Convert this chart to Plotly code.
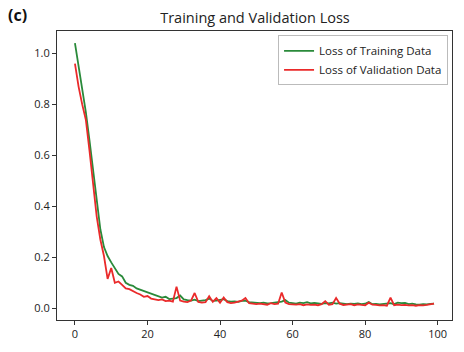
import plotly.graph_objects as go

epochs = list(range(100))

train_loss = [
    1.04, 0.95, 0.86, 0.77, 0.66, 0.54, 0.42, 0.31, 0.24, 0.205,
    0.18, 0.155, 0.135, 0.125, 0.10, 0.092, 0.088, 0.078, 0.073, 0.066,
    0.062, 0.055, 0.05, 0.047, 0.042, 0.045, 0.036, 0.038, 0.04, 0.05,
    0.035, 0.032, 0.03, 0.034, 0.028, 0.03, 0.032, 0.038, 0.029, 0.03,
    0.033, 0.036, 0.028, 0.026, 0.027, 0.025, 0.029, 0.03, 0.024, 0.022,
    0.021, 0.02, 0.022, 0.019, 0.02, 0.021, 0.024, 0.026, 0.032, 0.022,
    0.02, 0.018, 0.022, 0.02, 0.024, 0.019, 0.021, 0.018, 0.017, 0.02,
    0.019, 0.022, 0.018, 0.02, 0.017, 0.016, 0.018, 0.017, 0.019, 0.016,
    0.018, 0.025, 0.016, 0.017, 0.015, 0.016, 0.018, 0.02, 0.016, 0.022,
    0.02, 0.021, 0.016, 0.018, 0.015, 0.014, 0.016, 0.015, 0.017, 0.018,
]

val_loss = [
    0.96, 0.87, 0.80, 0.74, 0.62, 0.48, 0.36, 0.27, 0.205, 0.115,
    0.158, 0.10, 0.105, 0.092, 0.078, 0.075, 0.066, 0.06, 0.054, 0.045,
    0.048, 0.038, 0.035, 0.032, 0.035, 0.028, 0.03, 0.026, 0.085, 0.03,
    0.026, 0.024, 0.03, 0.06, 0.025, 0.022, 0.024, 0.047, 0.025, 0.04,
    0.022, 0.042, 0.024, 0.02, 0.022, 0.025, 0.03, 0.04, 0.02, 0.018,
    0.016, 0.018, 0.015, 0.014, 0.02, 0.016, 0.018, 0.062, 0.022, 0.016,
    0.015, 0.014, 0.016, 0.012, 0.015, 0.013, 0.014, 0.012, 0.016, 0.028,
    0.014, 0.016, 0.04, 0.018, 0.013, 0.014, 0.016, 0.012, 0.015, 0.013,
    0.012, 0.022, 0.014, 0.013, 0.011, 0.012, 0.01, 0.042, 0.012, 0.014,
    0.012, 0.013, 0.011, 0.012, 0.01, 0.012, 0.011, 0.013, 0.015, 0.018,
]

x_ticks = [0, 20, 40, 60, 80, 100]
y_ticks = [0.0, 0.2, 0.4, 0.6, 0.8, 1.0]
y_tick_labels = ["0.0", "0.2", "0.4", "0.6", "0.8", "1.0"]

font_family = "Open Sans, Liberation Sans, sans-serif"

fig = go.Figure()
fig.add_trace(go.Scatter(x=epochs, y=train_loss, mode="lines",
                         name="Loss of Training Data",
                         line=dict(color="#2a8a3a", width=1.8)))
fig.add_trace(go.Scatter(x=epochs, y=val_loss, mode="lines",
                         name="Loss of Validation Data",
                         line=dict(color="#ea2a2a", width=1.8)))

fig.update_layout(
    width=464, height=352,
    margin=dict(l=57, r=11, t=31, b=26),
    paper_bgcolor="white", plot_bgcolor="white",
    font=dict(family=font_family, size=11, color="#222"),
    title=dict(text="Training and Validation Loss", x=(57 + 198) / 464, xanchor="center",
               y=1 - 18 / 352, yanchor="middle", font=dict(size=14.5, color="#222")),
    showlegend=True,
    legend=dict(x=0.99, y=0.985, xanchor="right", yanchor="top",
                bgcolor="white", bordercolor="#bbbbbb", borderwidth=1,
                font=dict(size=11.5, color="#222"), tracegroupgap=0,
                itemwidth=30),
    xaxis=dict(range=[-4.95, 103.95], tickvals=x_ticks, showgrid=False, zeroline=False,
               showline=True, linecolor="#333", linewidth=1.2, mirror=True,
               ticks="outside", ticklen=4, tickcolor="#333", tickfont=dict(size=11)),
    yaxis=dict(range=[-0.046, 1.088], tickvals=y_ticks, ticktext=y_tick_labels,
               showgrid=False, zeroline=False,
               showline=True, linecolor="#333", linewidth=1.2, mirror=True,
               ticks="outside", ticklen=4, tickcolor="#333", tickfont=dict(size=11)),
)

fig.add_annotation(text="<b>(c)</b>", xref="paper", yref="paper",
                   x=-57 / 396 + 6 / 396, y=1 + 16 / 295, xanchor="left", yanchor="middle",
                   showarrow=False, font=dict(size=16, color="#111"))

fig.write_html("out.html")
